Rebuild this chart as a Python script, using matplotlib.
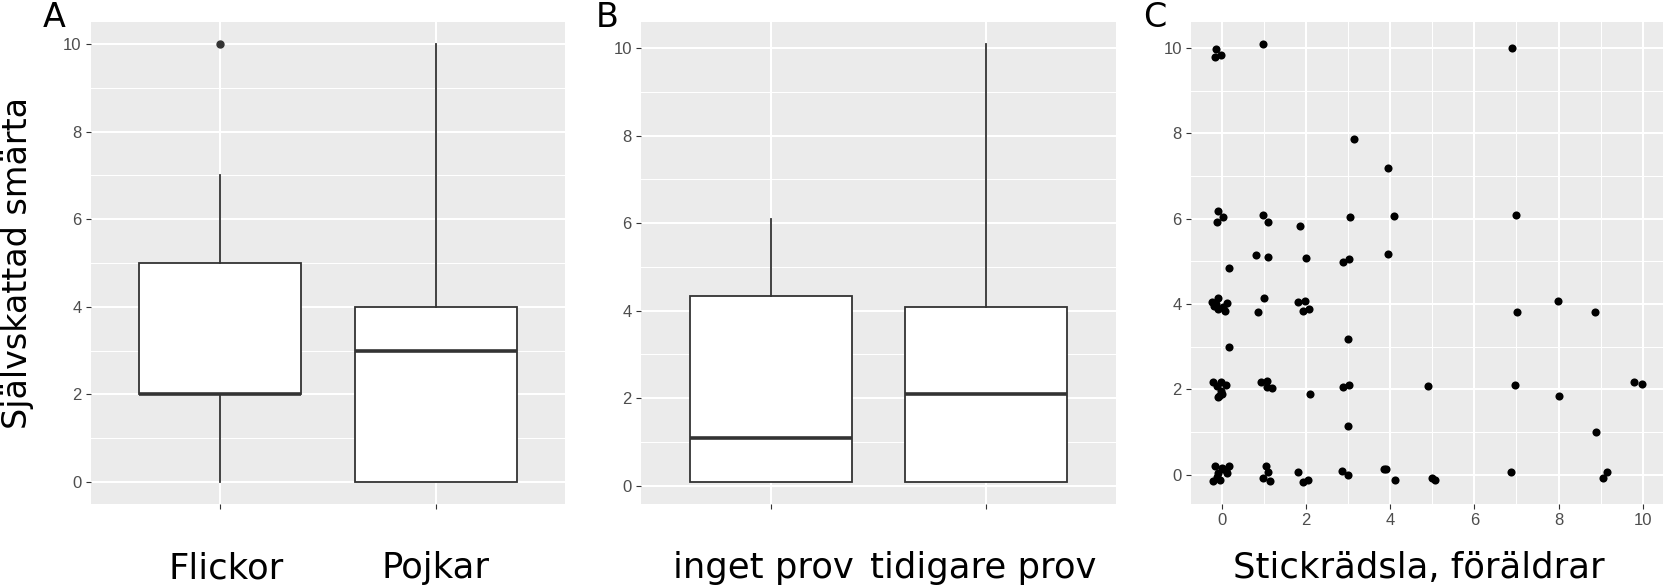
import matplotlib
matplotlib.use("Agg")
import matplotlib.pyplot as plt
from matplotlib.ticker import MultipleLocator, FixedLocator
from matplotlib.transforms import ScaledTranslation

# Panel A: self-rated pain by sex (box statistics)
sex_labels = ["Flickor", "Pojkar"]
sex_whislo = [0, 0]
sex_q1 = [2, 0]
sex_med = [2, 3]
sex_q3 = [5, 4]
sex_whishi = [7, 10]
sex_fliers = [[10], []]

# Panel B: self-rated pain by earlier blood test
prev_labels = ["inget prov", "tidigare prov"]
prev_whislo = [0.09, 0.09]
prev_q1 = [0.09, 0.09]
prev_med = [1.09, 2.09]
prev_q3 = [4.34, 4.09]
prev_whishi = [6.09, 10.09]
prev_fliers = [[], []]

# Panel C: needle fear of parents vs self-rated pain (jittered points)
fear_parent = [
    -0.13, -0.16, -0.02, 0.97, 6.90, 3.14, 3.96, -0.08, 0.02, -0.12,
    0.97, 1.11, 1.85, 3.04, 4.09, 6.99, 0.82, 1.09, 1.99, 2.87,
    3.03, 3.96, 0.17, -0.10, -0.22, -0.18, -0.08, 0.02, 0.13, 0.07,
    -0.13, 1.01, 0.87, 1.81, 1.97, 1.94, 2.08, 2.99, 0.17, -0.20,
    -0.02, -0.12, 0.10, -0.06, 0.01, -0.09, -0.02, 0.93, 1.08, 1.08,
    1.19, 2.10, 2.88, 3.03, 4.90, 6.97, 8.01, 9.78, 9.97, 2.99,
    8.89, 7.02, 7.98, 8.86, -0.17, -0.20, -0.05, -0.09, 0.04, 0.17,
    0.13, -0.12, 0.01, 0.09, 1.05, 1.10, 0.98, 1.15, 1.80, 1.93,
    2.04, 2.85, 2.99, 3.85, 3.89, 4.11, 5.00, 5.06, 6.88, 9.05,
    9.14,
]
pain_score = [
    9.97, 9.80, 9.83, 10.09, 10.01, 7.86, 7.18, 6.19, 6.04, 5.91,
    6.09, 5.92, 5.83, 6.05, 6.06, 6.08, 5.14, 5.10, 5.07, 4.99,
    5.05, 5.18, 4.84, 4.15, 4.04, 3.95, 3.89, 3.94, 4.03, 3.83,
    4.01, 4.15, 3.82, 4.04, 4.08, 3.83, 3.87, 3.17, 2.98, 2.18,
    2.18, 2.07, 2.09, 1.85, 1.89, 1.82, 1.96, 2.16, 2.20, 2.05,
    2.04, 1.89, 2.05, 2.11, 2.07, 2.09, 1.85, 2.16, 2.12, 1.15,
    0.99, 3.80, 4.08, 3.81, 0.20, -0.16, -0.12, 0.04, 0.12, 0.19,
    0.04, -0.05, 0.16, 0.10, 0.19, 0.05, -0.09, -0.15, 0.05, -0.17,
    -0.12, 0.09, 0.00, 0.12, 0.14, -0.12, -0.07, -0.12, 0.07, -0.09,
    0.05,
]

W, H = 1666, 587
GREY_TXT = "#4D4D4D"
DARK = "#333333"


def px_axes(left, right, top=22.3, bottom=503.7):
    return [left / W, 1 - bottom / H, (right - left) / W, (bottom - top) / H]


def expand(lo, hi, mult=0.05):
    r = hi - lo
    return lo - mult * r, hi + mult * r


def style_panel(ax):
    ax.set_facecolor("#EBEBEB")
    for s in ax.spines.values():
        s.set_visible(False)
    ax.set_axisbelow(True)
    ax.grid(which="major", color="white", linewidth=1.5)
    ax.grid(which="minor", color="white", linewidth=0.75)
    ax.tick_params(which="major", length=3.6, width=0.8, color=DARK)
    ax.tick_params(which="minor", length=0)
    ax.yaxis.set_major_locator(MultipleLocator(2))
    ax.yaxis.set_minor_locator(MultipleLocator(1))
    ax.tick_params(axis="y", labelsize=12, labelcolor=GREY_TXT, pad=3)


def draw_boxes(ax, labels, whislo, q1, med, q3, whishi, fliers):
    stats = []
    for i, lab in enumerate(labels):
        stats.append(dict(label=lab, whislo=whislo[i], q1=q1[i], med=med[i],
                          q3=q3[i], whishi=whishi[i], fliers=fliers[i]))
    pos = list(range(1, len(labels) + 1))
    ax.bxp(stats, positions=pos, widths=0.75, showcaps=False, patch_artist=True,
           boxprops=dict(facecolor="white", edgecolor=DARK, linewidth=1.3),
           whiskerprops=dict(color=DARK, linewidth=1.3),
           medianprops=dict(color=DARK, linewidth=2.6),
           flierprops=dict(marker="o", markerfacecolor=DARK, markeredgecolor=DARK,
                           markersize=5))
    ax.set_xlim(0.4, len(labels) + 0.6)
    lo = min(whislo + [v for f in fliers for v in f])
    hi = max(whishi + [v for f in fliers for v in f])
    ax.set_ylim(*expand(lo, hi))
    ax.xaxis.set_major_locator(FixedLocator(pos))
    ax.set_xticklabels(labels)
    ax.tick_params(axis="x", labelsize=25.5, labelcolor="black", pad=30.5)


def nudge_labels(fig, ax, shifts_px):
    # the reference labels sit a few pixels off their ticks
    for lab, dx in zip(ax.get_xticklabels(), shifts_px):
        lab.set_transform(lab.get_transform() + ScaledTranslation(dx / 100, 0, fig.dpi_scale_trans))


def main():
    fig = plt.figure(figsize=(W / 100, H / 100), dpi=100)

    ax_a = fig.add_axes(px_axes(90.7, 565.3))
    ax_b = fig.add_axes(px_axes(641, 1116))
    ax_c = fig.add_axes(px_axes(1191, 1663))

    for ax in (ax_a, ax_b, ax_c):
        style_panel(ax)

    draw_boxes(ax_a, sex_labels, sex_whislo, sex_q1, sex_med, sex_q3,
               sex_whishi, sex_fliers)
    draw_boxes(ax_b, prev_labels, prev_whislo, prev_q1, prev_med, prev_q3,
               prev_whishi, prev_fliers)
    nudge_labels(fig, ax_a, [6, 0])
    nudge_labels(fig, ax_b, [-7, -3])

    ax_c.scatter(fear_parent, pain_score, s=34, color="black", linewidths=0, zorder=3)
    ax_c.set_xlim(*expand(min(fear_parent), max(fear_parent)))
    ax_c.set_ylim(*expand(min(pain_score), max(pain_score)))
    ax_c.xaxis.set_major_locator(MultipleLocator(2))
    ax_c.xaxis.set_minor_locator(MultipleLocator(1))
    ax_c.tick_params(axis="x", labelsize=12, labelcolor=GREY_TXT, pad=3)
    for lab in ax_c.get_xticklabels():
        lab.set_family("Liberation Sans")
    ax_c.set_xlabel("Stickrädsla, föräldrar", fontsize=25.5)
    ax_c.xaxis.set_label_coords(0.483, -0.098)

    for ax in (ax_a, ax_b, ax_c):
        for lab in ax.get_yticklabels():
            lab.set_family("Liberation Sans")

    ax_a.set_ylabel("Självskattad smärta", fontsize=24)
    ax_a.yaxis.set_label_coords(-0.155, 0.5)
    ax_a.yaxis.label.set_verticalalignment("center")

    for x, letter in ((43, "A"), (596, "B"), (1143, "C")):
        fig.text(x / W, 1 - 27 / H, letter, fontsize=24, va="baseline", ha="left")

    fig.savefig("out.png", dpi=100)


if __name__ == "__main__":
    main()
